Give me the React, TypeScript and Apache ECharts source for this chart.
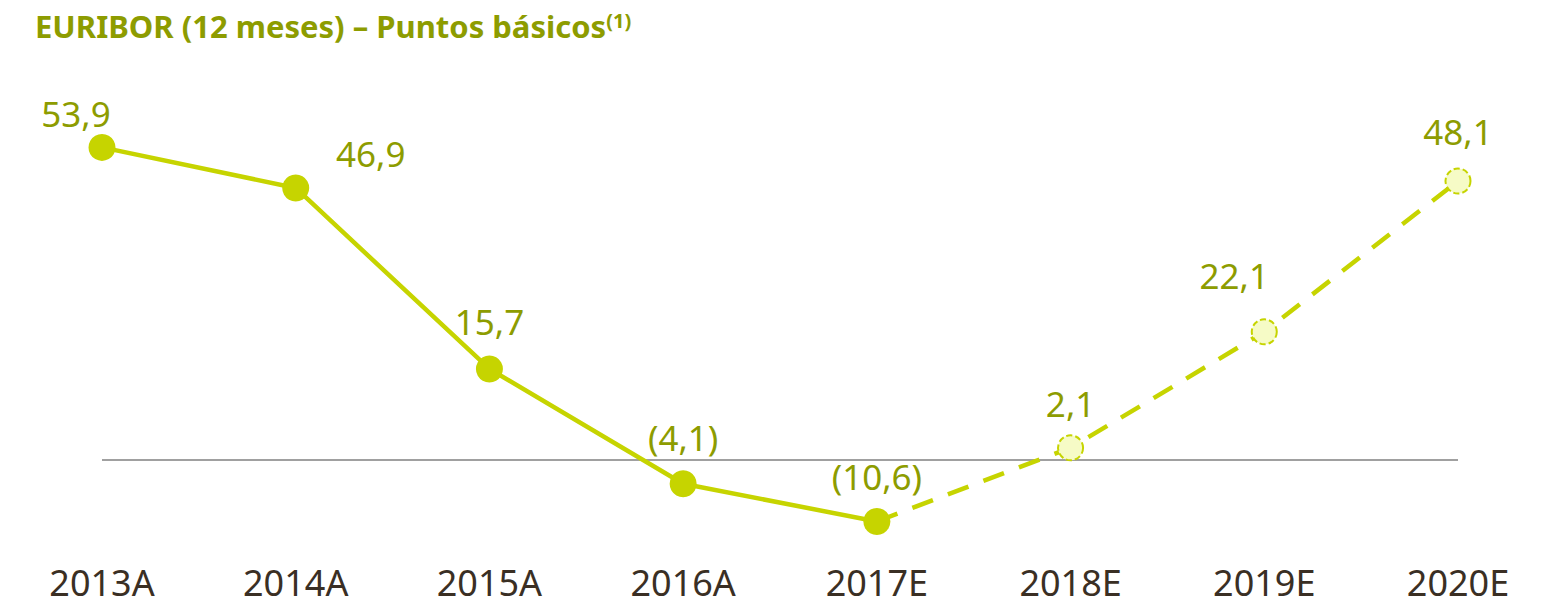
import React, { useEffect, useRef } from "react";
import * as echarts from "echarts";

const categories = ["2013A", "2014A", "2015A", "2016A", "2017E", "2018E", "2019E", "2020E"];
const actualValues: (number | null)[] = [53.9, 46.9, 15.7, -4.1, -10.6, null, null, null];
const estimateValues: (number | null)[] = [null, null, null, null, -10.6, 2.1, 22.1, 48.1];

const LINE = "#c6d400";
const LABEL = "#8d9c00";
const FONT = "'Noto Sans', sans-serif";

// label offsets (style only) per category index
const labelOffsets: [number, number][] = [
  [-26, -34], [75, -34], [0, -47], [0, -46], [0, -45], [0, -44], [-30, -56], [0, -50],
];

const fmt = (v: number) => {
  const s = Math.abs(v).toFixed(1).replace(".", ",");
  return v < 0 ? `(${s})` : s;
};

export default function App() {
  const ref = useRef<HTMLDivElement>(null);
  useEffect(() => {
    if (!ref.current) return;
    const chart = echarts.init(ref.current, null, { renderer: "svg" });
    const labelFor = (i: number) => ({
      show: true,
      position: "inside" as const,
      offset: labelOffsets[i],
      color: LABEL,
      fontFamily: FONT,
      fontSize: 35,
      formatter: (p: any) => fmt(p.value),
    });
    const actualData = actualValues.map((v, i) =>
      v === null ? null : { value: v, label: labelFor(i) }
    );
    const estData = estimateValues.map((v, i) => {
      if (v === null) return null;
      if (actualValues[i] !== null) return { value: v, symbol: "none", label: { show: false } };
      return { value: v, label: labelFor(i) };
    });
    chart.setOption({
      animation: false,
      title: {
        text: "EURIBOR (12 meses) – Puntos básicos{s|(1)}",
        left: 30,
        top: 5,
        textStyle: {
          color: LABEL,
          fontFamily: FONT,
          fontWeight: "bold",
          fontSize: 31,
          rich: {
            s: { color: LABEL, fontFamily: FONT, fontWeight: "bold", fontSize: 20, verticalAlign: "top", padding: [0, 0, 12, 0] },
          },
        },
      },
      grid: { left: 102, right: 93, top: 112, bottom: 30, containLabel: false },
      xAxis: {
        type: "category",
        data: categories,
        boundaryGap: false,
        axisLine: { show: false },
        axisTick: { show: false },
        splitLine: { show: false },
        axisLabel: {
          color: "#3a2f24",
          fontFamily: FONT,
          fontSize: 36,
          margin: 6,
          verticalAlign: "middle",
          interval: 0,
        },
      },
      yAxis: {
        type: "value",
        min: -20,
        max: 60,
        show: false,
        splitLine: { show: false },
      },
      series: [
        {
          type: "line",
          data: estData,
          z: 2,
          connectNulls: false,
          lineStyle: { color: LINE, width: 4.5, type: [22, 16] },
          symbol: "circle",
          symbolSize: 25,
          itemStyle: { color: "#f6fbc6", borderColor: LINE, borderWidth: 2, borderType: [6, 3] },
          markLine: {
            silent: true,
            symbol: "none",
            label: { show: false },
            lineStyle: { color: "#808080", width: 1.5, type: "solid" },
            data: [{ yAxis: 0 }],
            z: 1,
          },
        },
        {
          type: "line",
          data: actualData,
          z: 3,
          lineStyle: { color: LINE, width: 4.5 },
          symbol: "circle",
          symbolSize: 27,
          itemStyle: { color: LINE },
        },
      ],
    });
    return () => chart.dispose();
  }, []);
  return (
    <div
      ref={ref}
      style={{ position: "fixed", left: 0, top: 0, width: 1551, height: 606, background: "#fff" }}
    />
  );
}
